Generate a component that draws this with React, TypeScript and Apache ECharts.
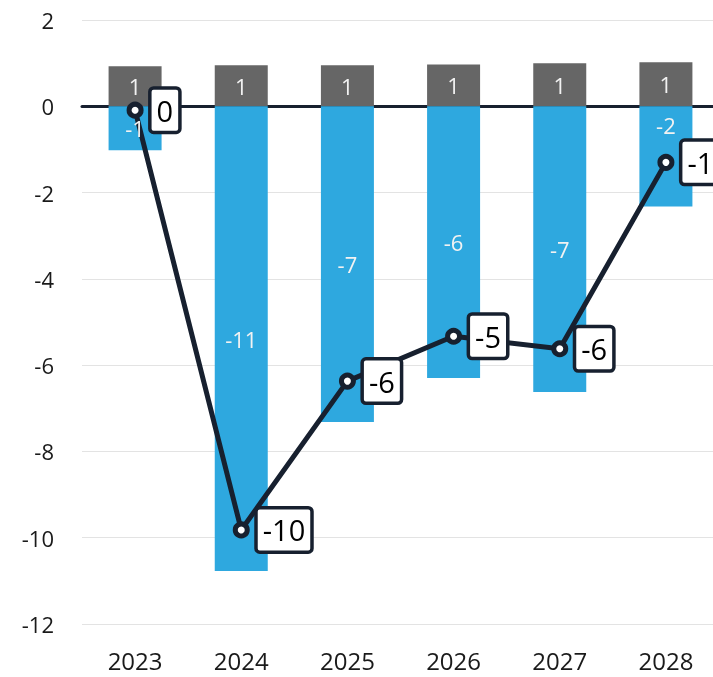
import React, { useEffect, useRef } from "react";
import * as echarts from "echarts";

const categories = ["2023", "2024", "2025", "2026", "2027", "2028"];
const grayValues = [0.93, 0.95, 0.95, 0.97, 1.0, 1.02];
const blueValues = [-1.02, -10.77, -7.32, -6.3, -6.62, -2.32];
const lineValues = [-0.09, -9.82, -6.37, -5.33, -5.62, -1.3];
const yTicks = { min: -12, max: 2, interval: 2 };

const FONT = "'Open Sans', 'Noto Sans', sans-serif";
const fmt = (v: number) => {
  const r = Math.round(v);
  return r === 0 ? "0" : String(r);
};

const barLabel = {
  show: true,
  position: "inside",
  color: "#f2f2f2",
  fontSize: 22,
  fontFamily: FONT,
  formatter: (p: any) => fmt(p.value),
};

export default function App() {
  const ref = useRef<HTMLDivElement>(null);
  useEffect(() => {
    if (!ref.current) return;
    const chart = echarts.init(ref.current, undefined, { renderer: "svg" });
    chart.setOption({
      animation: false,
      textStyle: { fontFamily: FONT },
      grid: { left: 82, right: 0, top: 20, bottom: 53, containLabel: false },
      xAxis: {
        type: "category",
        data: categories,
        axisTick: { show: false },
        axisLine: { show: true, onZero: true, lineStyle: { color: "#17202F", width: 3 } },
        axisLabel: { fontSize: 24, color: "#1a1a1a", fontFamily: FONT, margin: 24 },
        position: "bottom",
      },
      yAxis: {
        type: "value",
        min: yTicks.min,
        max: yTicks.max,
        interval: yTicks.interval,
        axisLine: { show: false },
        axisTick: { show: false },
        axisLabel: { fontSize: 22, color: "#1a1a1a", fontFamily: FONT, margin: 28 },
        splitLine: { lineStyle: { color: "#e3e3e3", width: 1 } },
      },
      series: [
        {
          type: "bar",
          stack: "a",
          barWidth: 53,
          barGap: "-100%",
          data: grayValues,
          itemStyle: { color: "#666666" },
          z: 2,
        },
        {
          type: "bar",
          stack: "a",
          barWidth: 53,
          barGap: "-100%",
          data: blueValues,
          itemStyle: { color: "#2EA8DF" },
          z: 2,
        },
        {
          type: "line",
          data: lineValues,
          symbol: "circle",
          symbolSize: 12,
          lineStyle: { color: "#17202F", width: 5 },
          itemStyle: { color: "#ffffff", borderColor: "#17202F", borderWidth: 5 },
          z: 5,
          label: {
            show: true,
            position: "right",
            distance: 8,
            backgroundColor: "#ffffff",
            borderColor: "#17202F",
            borderWidth: 3.5,
            borderRadius: 2,
            padding: [4, 5, 4, 5],
            color: "#000",
            fontSize: 29,
            lineHeight: 33,
            fontFamily: FONT,
            formatter: (p: any) => fmt(p.value),
          },
        },
        {
          type: "bar",
          stack: "b",
          barWidth: 53,
          barGap: "-100%",
          data: grayValues,
          itemStyle: { color: "rgba(0,0,0,0)" },
          label: barLabel,
          z: 10,
          silent: true,
        },
        {
          type: "bar",
          stack: "b",
          barWidth: 53,
          barGap: "-100%",
          data: blueValues.map((v, i) =>
            i === 5 ? { value: v, label: { position: "insideTop", distance: 8 } } : v
          ),
          itemStyle: { color: "rgba(0,0,0,0)" },
          label: barLabel,
          z: 10,
          silent: true,
        },
      ],
    });
    return () => chart.dispose();
  }, []);
  return (
    <div style={{ position: "fixed", left: 0, top: 0, width: 713, height: 677, overflow: "hidden" }}>
      <div ref={ref} style={{ width: 719, height: 677 }} />
    </div>
  );
}
